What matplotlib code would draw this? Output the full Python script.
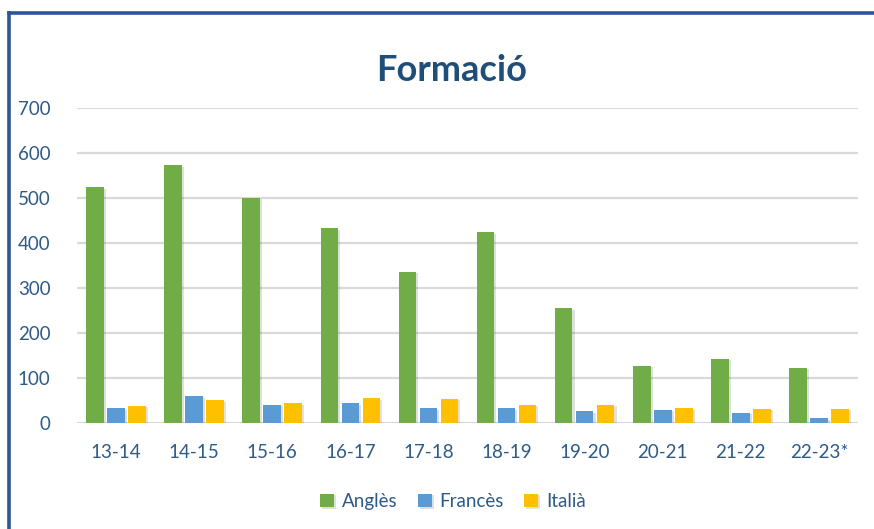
import numpy as np
import matplotlib.pyplot as plt
from matplotlib import patheffects
from matplotlib.lines import Line2D

# Dades
cursos = ['13-14', '14-15', '15-16', '16-17', '17-18',
          '18-19', '19-20', '20-21', '21-22', '22-23*']
angles = [524, 573, 500, 433, 336, 424, 255, 127, 143, 122]
frances = [33, 59, 41, 44, 33, 33, 26, 29, 23, 10]
italia = [38, 50, 44, 55, 54, 41, 41, 33, 31, 31]

plt.rcParams['font.family'] = ['Lato', 'DejaVu Sans']
text_color = '#2E5A88'

fig = plt.figure(figsize=(8.74, 5.29), dpi=100)
ax = fig.add_axes([0.0881, 0.2004, 0.8936, 0.5955])

x = np.arange(len(cursos))
w = 0.225
step = 0.269
shadow = [patheffects.SimplePatchShadow(offset=(1.5, -1), alpha=0.15), patheffects.Normal()]

series = [('Anglès', angles, '#70AD47'),
          ('Francès', frances, '#5B9BD5'),
          ('Italià', italia, '#FFC000')]
for i, (nom, vals, col) in enumerate(series):
    bars = ax.bar(x + (i - 1) * step, vals, width=w, color=col, label=nom, zorder=3)
    for b in bars:
        b.set_path_effects(shadow)

ax.set_xlim(-0.5, len(cursos) - 0.5)
ax.set_ylim(0, 700)
ax.set_yticks(range(0, 701, 100))
ax.set_xticks(x)
ax.set_xticklabels(cursos)
ax.grid(axis='y', color='#D9D9D9', linewidth=1.6, zorder=0)
ax.set_axisbelow(True)
for s in ax.spines.values():
    s.set_visible(False)
ax.tick_params(axis='both', length=0, labelsize=13.5, colors=text_color)
ax.tick_params(axis='y', pad=19)
ax.tick_params(axis='x', pad=15)

fig.text(0.517, 0.866, 'Formació', ha='center', va='center',
         fontsize=26, fontweight='bold', color='#1F4E79')

leg = fig.legend(loc='center', bbox_to_anchor=(0.518, 0.052), ncol=3, frameon=False,
                 handlelength=0.75, handleheight=0.75, handletextpad=0.4,
                 columnspacing=1.1, fontsize=13.5)
for t in leg.get_texts():
    t.set_color(text_color)

# Vora del gràfic (només dalt i esquerra)
fig.add_artist(Line2D([0.0105, 1.0], [0.9745, 0.9745], color='#2F5597', linewidth=2.6))
fig.add_artist(Line2D([0.0105, 0.0105], [0.9745, 0.0], color='#2F5597', linewidth=2.6))

fig.savefig('out.png', dpi=100)
